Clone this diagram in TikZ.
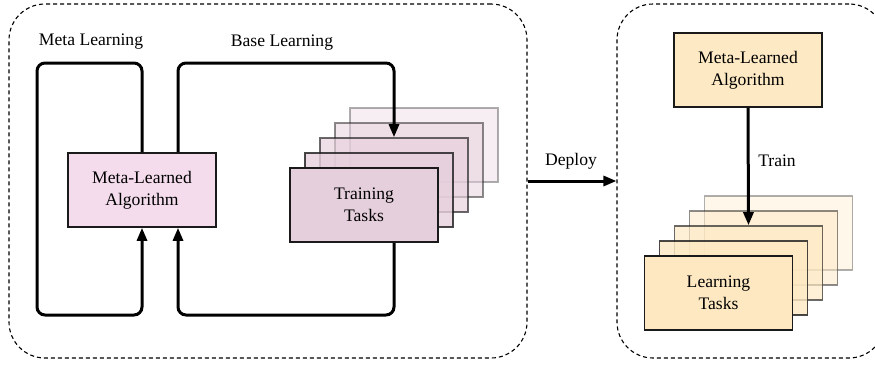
\documentclass[tikz,border=0pt]{standalone}
\usepackage{fontspec}
\setmainfont{Liberation Serif}
\usetikzlibrary{arrows.meta}

\definecolor{algpink}{HTML}{F4DCEC}
\definecolor{taskpink}{HTML}{E6CFDC}
\definecolor{algtan}{HTML}{FDE9C4}
\definecolor{tasktan}{HTML}{FDE8C2}
\definecolor{edge}{HTML}{1A1A1A}

\tikzset{
  lbl/.style={font=\fontsize{17.6}{22}\selectfont, align=center, inner sep=0pt},
  panel/.style={draw=black, line width=1.1pt, dash pattern=on 4pt off 3pt,
    rounded corners=36pt, rectangle, inner sep=0pt},
  card/.style={draw=edge, line width=1.6pt, rectangle, minimum width=148pt,
    minimum height=74pt, inner sep=0pt, lbl},
  flow/.style={line width=3pt, draw=black, rounded corners=8pt},
  tip/.style={-{Triangle[length=13pt,width=10pt]}},
}

\begin{document}
\begin{tikzpicture}[x=1pt, y=-1pt]
  \useasboundingbox (0,0) rectangle (875,365);
  \clip (0,0) rectangle (875,365);

  % dashed panels
  \node[panel, minimum width=518pt, minimum height=354pt] (leftc) at (268,181) {};
  \node[panel, minimum width=268pt, minimum height=354pt] (rightc) at (751,181) {};

  % ---- left panel ----
  \node[lbl] (metalbl) at (91,42) {Meta Learning};
  \node[lbl] (baselbl) at (282,43) {Base Learning};

  \node[card, fill=algpink] (mla) at (142,190) {Meta-Learned\\Algorithm};

  % stacked training tasks, back to front
  \foreach \k/\op in {5/0.35, 4/0.5, 3/0.65, 2/0.8} {
    \node[card, fill=taskpink, opacity=\op] (t\k) at ({364+15*(\k-1)},{205-15*(\k-1)}) {};
  }
  \node[card, fill=taskpink] (t1) at (364,205) {Training\\Tasks};

  % loop geometry
  \coordinate (loopL) at (37,63);
  \coordinate (botY) at (0,315);
  \coordinate (mlaR) at ([xshift=36pt]mla.center);

  % meta-learning loop
  \draw[flow, tip] (mla.north) |- (loopL) |- (mla.south |- botY) -- (mla.south);
  % base-learning loop
  \draw[flow, tip] (mlaR |- mla.north) |- (t3.north |- loopL) -- (t3.north);
  \draw[flow, tip] (t1.south -| t3.north) |- (mlaR |- botY) -- (mlaR |- mla.south);

  % ---- deploy ----
  \draw[flow, tip] (leftc.east) -- (rightc.west);
  \node[lbl] (deploylbl) at (571,161) {Deploy};

  % ---- right panel ----
  \node[card, fill=algtan] (rmla) at (748,70) {Meta-Learned\\Algorithm};

  \foreach \k/\op in {5/0.35, 4/0.5, 3/0.65, 2/0.8} {
    \node[card, fill=tasktan, opacity=\op] (l\k) at ({718.5+15*(\k-1)},{293-15*(\k-1)}) {};
  }
  \node[card, fill=tasktan] (l1) at (718.5,293) {Learning\\Tasks};

  \draw[flow, tip] (rmla.south) -- (l3.north);
  \node[lbl] (trainlbl) at (777,161) {Train};
\end{tikzpicture}
\end{document}
